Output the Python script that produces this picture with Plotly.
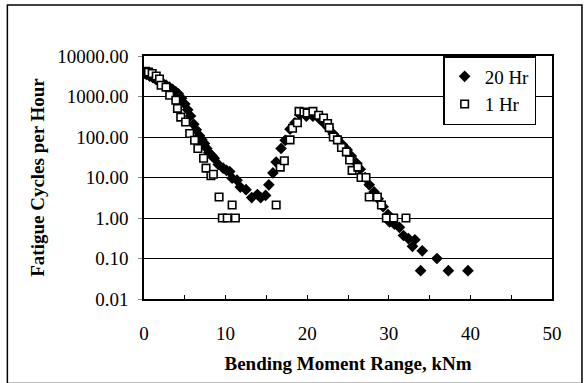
import plotly.graph_objects as go

# 20 Hr series (filled diamonds)
x_20hr = [0.0, 0.3, 0.7, 1.1, 1.5, 1.9, 2.3, 2.7, 3.1, 3.5, 3.9, 4.2, 4.6, 5.0, 5.35, 5.7,
          6.1, 6.4, 6.8, 7.1, 7.4, 7.7, 7.95, 8.3, 8.6, 9.1, 9.7, 10.1, 10.5, 10.8, 11.4, 11.8,
          12.5, 13.2, 13.9, 14.3, 14.9, 15.3, 15.8, 16.2, 16.8, 17.3, 17.9, 18.5, 19.1, 19.9,
          20.7, 21.4, 22.0, 22.6, 23.2, 23.7, 24.3, 24.9, 25.4, 26.0, 26.5, 27.1, 27.6, 28.2,
          28.7, 29.3, 29.9, 30.1, 30.7, 31.3, 31.8, 32.4, 32.9, 33.2, 33.9, 34.1, 35.9, 37.3, 39.7]
y_20hr = [3700, 3500, 3200, 2900, 2600, 2300, 2100, 1900, 1700, 1500, 1300, 1170, 900, 650, 470, 330,
          205, 150, 108, 85, 69, 52, 41, 35, 30, 21, 17, 15, 14, 9.6, 8.6, 5.8,
          5.0, 3.2, 3.8, 3.2, 3.6, 6.6, 13, 24, 52, 83, 156, 225, 355, 325,
          325, 295, 225, 170, 118, 91, 65, 48, 34, 23, 16, 10, 6.6, 4.4,
          3.0, 1.9, 1.22, 0.80, 0.70, 0.59, 0.37, 0.31, 0.20, 0.29, 0.05, 0.155, 0.10, 0.05, 0.05]

# 1 Hr series (open squares)
x_1hr = [0.2, 0.55, 1.0, 1.5, 1.9, 2.1, 2.7, 3.15, 3.9, 4.1, 4.5, 5.1, 5.6, 6.2, 6.6, 7.3,
         7.6, 8.2, 8.5, 9.2, 9.6, 10.2, 10.8, 11.2, 16.2, 16.7, 17.2, 17.9, 18.2, 18.8, 19.0,
         19.6, 20.0, 20.7, 21.4, 22.0, 22.5, 22.7, 23.2, 23.7, 24.2, 24.8, 25.2, 25.5, 26.2,
         26.6, 27.2, 27.6, 28.6, 29.1, 29.7, 30.6, 32.1]
y_1hr = [4200, 4000, 3700, 3200, 2700, 1900, 1700, 1070, 810, 510, 310, 234, 122, 83, 52, 30,
         17, 11, 12, 3.3, 1.0, 1.0, 2.1, 1.0, 2.1, 18, 26, 85, 165, 225, 430,
         415, 390, 430, 345, 295, 215, 170, 100, 85, 55, 43, 27, 15, 18,
         10, 10, 3.3, 3.3, 2.1, 1.0, 1.0, 1.0]

x_tickvals = [0, 5, 10, 15, 20, 25, 30, 35, 40, 45, 50]
x_ticktext = ["0", "", "10", "", "20", "", "30", "", "40", "", "50"]
y_tickvals = [0.01, 0.1, 1, 10, 100, 1000, 10000]
y_ticktext = ["0.01", "0.10", "1.00", "10.00", "100.00", "1000.00", "10000.00"]

FONT = "Times New Roman, Liberation Serif, serif"
FS = 19

fig = go.Figure()
fig.add_trace(go.Scatter(
    x=x_20hr, y=y_20hr, mode="markers", name="20 Hr",
    marker=dict(symbol="diamond", size=9, color="black", line=dict(width=0)),
))
fig.add_trace(go.Scatter(
    x=x_1hr, y=y_1hr, mode="markers", name="1 Hr",
    marker=dict(symbol="square", size=7.5, color="white", line=dict(color="black", width=1.6)),
))

L, R, T, B = 143.5, 33, 56, 75.5
W, H = 585, 383
pw, ph = W - L - R, H - T - B

fig.update_layout(
    width=W, height=H,
    margin=dict(l=L, r=R, t=T, b=B, pad=0),
    paper_bgcolor="white", plot_bgcolor="white",
    font=dict(family=FONT, size=FS, color="black"),
    showlegend=True,
    legend=dict(
        x=(443 - L) / pw, y=1.0, xanchor="left", yanchor="top",
        bgcolor="white", bordercolor="black", borderwidth=1.5,
        font=dict(family=FONT, size=FS, color="black"),
        traceorder="normal", itemwidth=30,
    ),
    xaxis=dict(
        range=[0, 50], tickvals=x_tickvals, ticktext=x_ticktext,
        ticks="inside", ticklen=4, tickwidth=1, tickcolor="black",
        showgrid=False, zeroline=False,
        showline=True, linecolor="black", linewidth=1.5, mirror=True,
        ticklabelstandoff=16,
        tickfont=dict(family=FONT, size=FS, color="black"),
        title=dict(text="<b>Bending Moment Range, kNm</b>", standoff=14,
                   font=dict(family=FONT, size=FS, color="black")),
    ),
    yaxis=dict(
        type="log", range=[-2, 4], tickvals=y_tickvals, ticktext=y_ticktext,
        ticks="outside", ticklen=4, tickwidth=1, tickcolor="#888",
        showgrid=True, gridcolor="black", gridwidth=1.2,
        zeroline=False,
        showline=True, linecolor="black", linewidth=1.5, mirror=True,
        ticklabelstandoff=6,
        tickfont=dict(family=FONT, size=FS, color="black"),
        title=dict(text="<b>Fatigue Cycles per Hour</b>", standoff=8,
                   font=dict(family=FONT, size=FS, color="black")),
    ),
)

# outer chart frame
fig.add_shape(type="rect", xref="paper", yref="paper",
              x0=(6.7 - L) / pw, x1=(582 - L) / pw,
              y0=(ph - (395 - T)) / ph, y1=(ph - (3.3 - T)) / ph,
              line=dict(color="black", width=1.5), layer="below")

fig.write_html("out.html")
